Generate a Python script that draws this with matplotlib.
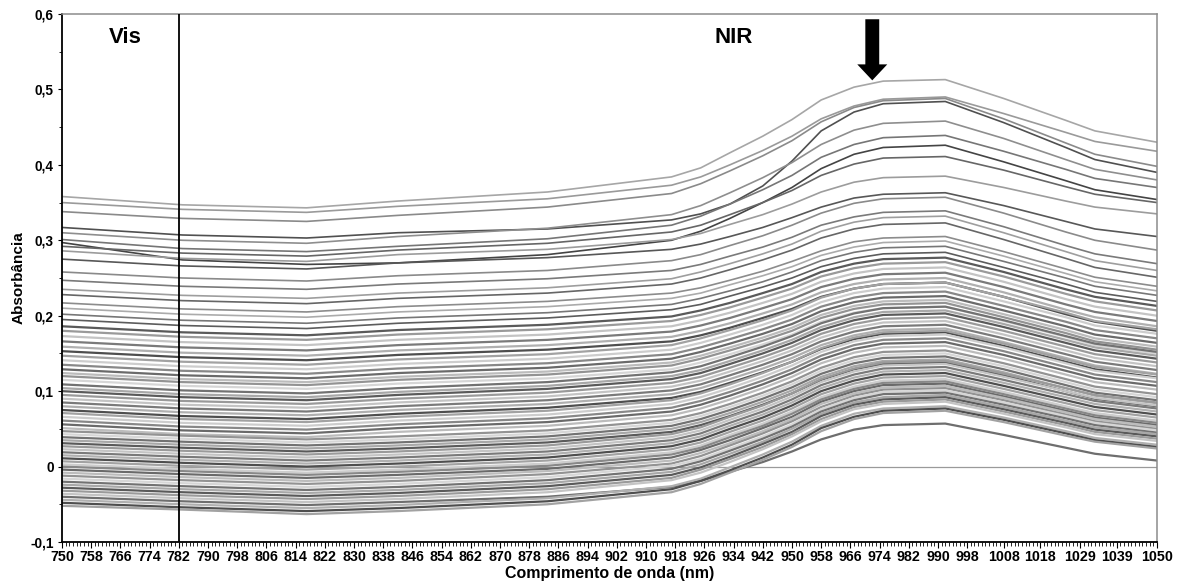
import matplotlib
matplotlib.use("Agg")
import matplotlib.pyplot as plt
from matplotlib import font_manager
from matplotlib.ticker import MultipleLocator

plt.rcParams['font.family'] = ['Liberation Sans', 'DejaVu Sans']

# Wavelengths labelled on the x axis (nm)
wavelength_ticks = [750, 758, 766, 774, 782, 790, 798, 806, 814, 822, 830, 838, 846,
                    854, 862, 870, 878, 886, 894, 902, 910, 918, 926, 934, 942, 950,
                    958, 966, 974, 982, 990, 998, 1008, 1018, 1029, 1039, 1050]

# Wavelengths (nm) at which each spectrum is listed below
sample_nm = [750, 783, 817, 842, 883, 917, 925, 933, 942, 950, 958, 967, 975, 992, 1008, 1025, 1033, 1050]

# Spectra with high absorbance
upper_spectra = [
    [0.358, 0.347, 0.343, 0.352, 0.364, 0.384, 0.396, 0.416, 0.438, 0.460, 0.486, 0.503, 0.511, 0.513, 0.488, 0.459, 0.445, 0.430],
    [0.350, 0.341, 0.337, 0.345, 0.355, 0.373, 0.384, 0.400, 0.419, 0.438, 0.461, 0.478, 0.487, 0.490, 0.468, 0.443, 0.431, 0.418],
    [0.338, 0.329, 0.325, 0.333, 0.344, 0.362, 0.375, 0.392, 0.412, 0.432, 0.457, 0.476, 0.485, 0.488, 0.461, 0.429, 0.414, 0.398],
    [0.317, 0.307, 0.303, 0.310, 0.315, 0.327, 0.335, 0.348, 0.372, 0.405, 0.445, 0.470, 0.481, 0.484, 0.456, 0.423, 0.407, 0.390],
    [0.310, 0.300, 0.296, 0.305, 0.316, 0.334, 0.346, 0.363, 0.383, 0.403, 0.427, 0.446, 0.455, 0.458, 0.435, 0.407, 0.394, 0.380],
    [0.301, 0.289, 0.285, 0.292, 0.302, 0.320, 0.332, 0.348, 0.367, 0.386, 0.410, 0.427, 0.436, 0.439, 0.418, 0.394, 0.382, 0.370],
    [0.297, 0.274, 0.268, 0.270, 0.281, 0.300, 0.312, 0.329, 0.350, 0.370, 0.395, 0.414, 0.423, 0.426, 0.404, 0.379, 0.367, 0.354],
    [0.292, 0.283, 0.279, 0.287, 0.296, 0.311, 0.320, 0.334, 0.350, 0.366, 0.386, 0.401, 0.409, 0.411, 0.393, 0.371, 0.361, 0.350],
    [0.286, 0.276, 0.272, 0.281, 0.288, 0.301, 0.309, 0.321, 0.334, 0.348, 0.364, 0.377, 0.383, 0.385, 0.370, 0.352, 0.344, 0.335],
    [0.275, 0.266, 0.262, 0.270, 0.277, 0.288, 0.295, 0.305, 0.317, 0.330, 0.344, 0.356, 0.361, 0.363, 0.346, 0.325, 0.315, 0.305],
    [0.258, 0.250, 0.246, 0.253, 0.260, 0.273, 0.281, 0.293, 0.306, 0.320, 0.336, 0.349, 0.355, 0.357, 0.336, 0.311, 0.300, 0.287],
    [0.247, 0.239, 0.235, 0.242, 0.249, 0.260, 0.268, 0.279, 0.291, 0.304, 0.320, 0.331, 0.337, 0.339, 0.318, 0.293, 0.282, 0.269],
    [0.235, 0.227, 0.223, 0.230, 0.237, 0.249, 0.258, 0.269, 0.282, 0.295, 0.312, 0.324, 0.330, 0.332, 0.310, 0.285, 0.273, 0.260],
    [0.228, 0.220, 0.216, 0.223, 0.230, 0.242, 0.250, 0.261, 0.274, 0.287, 0.303, 0.315, 0.321, 0.323, 0.301, 0.276, 0.264, 0.251],
    [0.217, 0.209, 0.205, 0.212, 0.219, 0.230, 0.237, 0.247, 0.259, 0.272, 0.286, 0.298, 0.303, 0.305, 0.285, 0.262, 0.251, 0.239],
    [0.210, 0.202, 0.198, 0.205, 0.212, 0.223, 0.230, 0.241, 0.253, 0.265, 0.280, 0.291, 0.297, 0.299, 0.279, 0.256, 0.245, 0.233],
    [0.202, 0.194, 0.190, 0.197, 0.204, 0.215, 0.223, 0.233, 0.245, 0.258, 0.273, 0.284, 0.290, 0.292, 0.272, 0.250, 0.239, 0.227],
    [0.195, 0.187, 0.183, 0.190, 0.197, 0.208, 0.215, 0.226, 0.238, 0.250, 0.265, 0.276, 0.282, 0.284, 0.264, 0.242, 0.231, 0.219],
]

# Spectra in the dense middle band
middle_spectra = [
    [0.186, 0.178, 0.174, 0.181, 0.188, 0.199, 0.207, 0.217, 0.230, 0.242, 0.258, 0.269, 0.275, 0.277, 0.258, 0.235, 0.225, 0.213],
    [0.180, 0.172, 0.168, 0.175, 0.182, 0.193, 0.201, 0.211, 0.224, 0.236, 0.252, 0.263, 0.269, 0.271, 0.252, 0.229, 0.219, 0.207],
    [0.173, 0.165, 0.161, 0.168, 0.175, 0.186, 0.194, 0.204, 0.217, 0.229, 0.245, 0.256, 0.262, 0.264, 0.245, 0.222, 0.212, 0.200],
    [0.166, 0.158, 0.154, 0.161, 0.168, 0.179, 0.187, 0.197, 0.210, 0.222, 0.238, 0.249, 0.255, 0.257, 0.238, 0.215, 0.205, 0.193],
    [0.159, 0.151, 0.147, 0.154, 0.161, 0.172, 0.180, 0.190, 0.203, 0.215, 0.231, 0.242, 0.248, 0.250, 0.231, 0.208, 0.198, 0.186],
    [0.153, 0.145, 0.141, 0.148, 0.155, 0.166, 0.174, 0.184, 0.197, 0.209, 0.225, 0.236, 0.242, 0.244, 0.225, 0.202, 0.192, 0.180],
    [0.147, 0.139, 0.135, 0.142, 0.149, 0.161, 0.170, 0.181, 0.194, 0.207, 0.224, 0.236, 0.242, 0.244, 0.225, 0.204, 0.193, 0.182],
    [0.141, 0.133, 0.129, 0.136, 0.143, 0.155, 0.164, 0.175, 0.188, 0.201, 0.218, 0.230, 0.236, 0.238, 0.219, 0.198, 0.187, 0.176],
    [0.135, 0.127, 0.123, 0.130, 0.137, 0.149, 0.158, 0.169, 0.182, 0.195, 0.212, 0.224, 0.230, 0.232, 0.213, 0.192, 0.181, 0.170],
    [0.129, 0.121, 0.117, 0.124, 0.131, 0.143, 0.152, 0.163, 0.176, 0.189, 0.206, 0.218, 0.224, 0.226, 0.207, 0.186, 0.175, 0.164],
    [0.124, 0.116, 0.112, 0.119, 0.126, 0.138, 0.147, 0.158, 0.171, 0.184, 0.201, 0.213, 0.219, 0.221, 0.202, 0.181, 0.170, 0.159],
    [0.120, 0.112, 0.108, 0.115, 0.122, 0.134, 0.143, 0.154, 0.167, 0.180, 0.197, 0.209, 0.215, 0.217, 0.198, 0.177, 0.166, 0.155],
    [0.115, 0.107, 0.103, 0.110, 0.117, 0.129, 0.138, 0.149, 0.162, 0.175, 0.192, 0.204, 0.210, 0.212, 0.193, 0.172, 0.161, 0.150],
    [0.109, 0.101, 0.097, 0.104, 0.112, 0.125, 0.133, 0.145, 0.159, 0.173, 0.190, 0.203, 0.210, 0.212, 0.194, 0.173, 0.163, 0.152],
    [0.104, 0.096, 0.092, 0.099, 0.107, 0.120, 0.128, 0.140, 0.154, 0.168, 0.185, 0.198, 0.205, 0.207, 0.189, 0.168, 0.158, 0.147],
    [0.100, 0.092, 0.088, 0.095, 0.103, 0.116, 0.124, 0.136, 0.150, 0.164, 0.181, 0.194, 0.201, 0.203, 0.185, 0.164, 0.154, 0.143],
    [0.095, 0.087, 0.083, 0.090, 0.098, 0.111, 0.119, 0.131, 0.145, 0.159, 0.176, 0.189, 0.196, 0.198, 0.180, 0.159, 0.149, 0.138],
    [0.090, 0.082, 0.078, 0.085, 0.093, 0.106, 0.114, 0.126, 0.140, 0.154, 0.171, 0.184, 0.191, 0.193, 0.175, 0.154, 0.144, 0.133],
    [0.085, 0.077, 0.073, 0.080, 0.088, 0.101, 0.109, 0.121, 0.135, 0.149, 0.166, 0.179, 0.186, 0.188, 0.170, 0.149, 0.139, 0.128],
    [0.080, 0.072, 0.068, 0.075, 0.083, 0.096, 0.104, 0.116, 0.130, 0.144, 0.161, 0.174, 0.181, 0.183, 0.165, 0.144, 0.134, 0.123],
    [0.075, 0.067, 0.063, 0.070, 0.078, 0.091, 0.099, 0.111, 0.125, 0.139, 0.156, 0.169, 0.176, 0.178, 0.160, 0.139, 0.129, 0.118],
    [0.071, 0.063, 0.059, 0.066, 0.074, 0.088, 0.097, 0.109, 0.124, 0.139, 0.157, 0.171, 0.178, 0.180, 0.163, 0.142, 0.132, 0.122],
    [0.066, 0.058, 0.054, 0.061, 0.069, 0.083, 0.092, 0.104, 0.119, 0.134, 0.152, 0.166, 0.173, 0.175, 0.158, 0.137, 0.127, 0.117],
    [0.061, 0.053, 0.049, 0.056, 0.064, 0.078, 0.087, 0.099, 0.114, 0.129, 0.147, 0.161, 0.168, 0.170, 0.153, 0.132, 0.122, 0.112],
    [0.056, 0.048, 0.044, 0.051, 0.059, 0.073, 0.082, 0.094, 0.109, 0.124, 0.142, 0.156, 0.163, 0.165, 0.148, 0.127, 0.117, 0.107],
    [0.051, 0.043, 0.039, 0.046, 0.054, 0.068, 0.077, 0.089, 0.104, 0.119, 0.137, 0.151, 0.158, 0.160, 0.143, 0.122, 0.112, 0.102],
]

# Spectra with low absorbance
lower_spectra = [
    [0.047, 0.041, 0.036, 0.040, 0.048, 0.062, 0.071, 0.083, 0.098, 0.113, 0.131, 0.145, 0.152, 0.154, 0.137, 0.116, 0.106, 0.096],
    [0.043, 0.037, 0.032, 0.036, 0.044, 0.058, 0.067, 0.079, 0.094, 0.109, 0.127, 0.141, 0.148, 0.150, 0.133, 0.112, 0.102, 0.092],
    [0.039, 0.033, 0.028, 0.032, 0.040, 0.054, 0.063, 0.075, 0.090, 0.105, 0.123, 0.137, 0.144, 0.146, 0.129, 0.108, 0.098, 0.088],
    [0.035, 0.029, 0.024, 0.028, 0.036, 0.050, 0.059, 0.071, 0.086, 0.101, 0.119, 0.133, 0.140, 0.142, 0.125, 0.104, 0.094, 0.084],
    [0.031, 0.025, 0.020, 0.024, 0.032, 0.046, 0.055, 0.067, 0.082, 0.097, 0.115, 0.129, 0.136, 0.138, 0.121, 0.100, 0.090, 0.080],
    [0.027, 0.021, 0.016, 0.020, 0.028, 0.043, 0.052, 0.066, 0.081, 0.097, 0.116, 0.130, 0.138, 0.140, 0.123, 0.104, 0.095, 0.085],
    [0.023, 0.017, 0.012, 0.016, 0.024, 0.039, 0.048, 0.062, 0.077, 0.093, 0.112, 0.126, 0.134, 0.136, 0.119, 0.100, 0.091, 0.081],
    [0.019, 0.013, 0.008, 0.012, 0.020, 0.035, 0.044, 0.058, 0.073, 0.089, 0.108, 0.122, 0.130, 0.132, 0.115, 0.096, 0.087, 0.077],
    [0.015, 0.009, 0.004, 0.008, 0.016, 0.031, 0.040, 0.054, 0.069, 0.085, 0.104, 0.118, 0.126, 0.128, 0.111, 0.092, 0.083, 0.073],
    [0.011, 0.005, 0.000, 0.004, 0.012, 0.027, 0.036, 0.050, 0.065, 0.081, 0.100, 0.114, 0.122, 0.124, 0.107, 0.088, 0.079, 0.069],
    [0.007, 0.001, -0.004, 0.000, 0.008, 0.023, 0.032, 0.046, 0.061, 0.077, 0.096, 0.110, 0.118, 0.120, 0.103, 0.084, 0.075, 0.065],
    [0.003, -0.003, -0.008, -0.004, 0.004, 0.019, 0.028, 0.042, 0.057, 0.073, 0.092, 0.106, 0.114, 0.116, 0.099, 0.080, 0.071, 0.061],
    [0.000, -0.006, -0.011, -0.007, 0.001, 0.016, 0.025, 0.039, 0.054, 0.070, 0.089, 0.103, 0.111, 0.113, 0.096, 0.077, 0.068, 0.058],
    [-0.004, -0.010, -0.015, -0.011, -0.003, 0.012, 0.022, 0.035, 0.051, 0.066, 0.086, 0.100, 0.108, 0.110, 0.093, 0.074, 0.065, 0.055],
    [-0.008, -0.014, -0.019, -0.015, -0.006, 0.008, 0.018, 0.031, 0.047, 0.063, 0.083, 0.097, 0.105, 0.107, 0.091, 0.072, 0.063, 0.053],
    [-0.012, -0.018, -0.023, -0.019, -0.010, 0.004, 0.014, 0.028, 0.044, 0.060, 0.079, 0.094, 0.102, 0.104, 0.088, 0.069, 0.060, 0.050],
    [-0.016, -0.022, -0.027, -0.023, -0.014, 0.001, 0.010, 0.024, 0.040, 0.056, 0.076, 0.091, 0.099, 0.101, 0.085, 0.067, 0.058, 0.048],
    [-0.020, -0.026, -0.031, -0.027, -0.018, -0.003, 0.007, 0.021, 0.037, 0.053, 0.073, 0.088, 0.096, 0.098, 0.082, 0.064, 0.055, 0.045],
    [-0.024, -0.030, -0.035, -0.031, -0.022, -0.007, 0.003, 0.017, 0.033, 0.050, 0.070, 0.085, 0.092, 0.095, 0.079, 0.061, 0.052, 0.043],
    [-0.028, -0.034, -0.039, -0.035, -0.026, -0.011, -0.001, 0.013, 0.030, 0.046, 0.067, 0.082, 0.089, 0.092, 0.076, 0.058, 0.049, 0.040],
    [-0.032, -0.038, -0.043, -0.039, -0.030, -0.015, -0.004, 0.010, 0.026, 0.043, 0.063, 0.079, 0.086, 0.089, 0.073, 0.055, 0.046, 0.037],
    [-0.036, -0.042, -0.047, -0.043, -0.034, -0.018, -0.008, 0.006, 0.023, 0.040, 0.060, 0.076, 0.083, 0.086, 0.070, 0.052, 0.043, 0.034],
    [-0.040, -0.046, -0.051, -0.047, -0.040, -0.027, -0.019, -0.007, 0.006, 0.020, 0.036, 0.049, 0.055, 0.057, 0.042, 0.025, 0.017, 0.008],
    [-0.044, -0.050, -0.055, -0.051, -0.042, -0.026, -0.016, -0.001, 0.016, 0.033, 0.054, 0.070, 0.077, 0.080, 0.065, 0.047, 0.038, 0.029],
    [-0.048, -0.054, -0.059, -0.055, -0.046, -0.030, -0.019, -0.005, 0.012, 0.029, 0.051, 0.066, 0.074, 0.077, 0.062, 0.044, 0.035, 0.026],
    [-0.052, -0.057, -0.063, -0.059, -0.050, -0.034, -0.023, -0.008, 0.009, 0.026, 0.047, 0.063, 0.071, 0.074, 0.059, 0.041, 0.033, 0.024],
]

y_ticks = [-0.1, 0.0, 0.1, 0.2, 0.3, 0.4, 0.5, 0.6]
y_tick_labels = ['-0,1', '0', '0,1', '0,2', '0,3', '0,4', '0,5', '0,6']

# Grey shades for the individual spectra
upper_shades = ['#a6a6a6', '#9a9a9a', '#8a8a8a', '#505050', '#8e8e8e', '#767676',
                '#444444', '#666666', '#9c9c9c', '#575757', '#8a8a8a', '#7a7a7a',
                '#9e9e9e', '#666666', '#8c8c8c', '#ababab', '#777777', '#5c5c5c']
band_shades = ['#5a5a5a', '#9a9a9a', '#c4c4c4', '#7a7a7a', '#b0b0b0', '#4e4e4e',
               '#a2a2a2', '#cdcdcd', '#888888', '#6a6a6a', '#bcbcbc', '#939393',
               '#d6d6d6', '#727272', '#a8a8a8']

# Condensed face for the crowded wavelength labels, when it is installed
narrow_ok = any(f.name == 'Liberation Sans Narrow' for f in font_manager.fontManager.ttflist)
xtick_family = ['Liberation Sans Narrow', 'Liberation Sans'] if narrow_ok else ['Liberation Sans']
xtick_size = 11.5 if narrow_ok else 10.3

fig = plt.figure(figsize=(11.83, 5.82), dpi=100)
ax = fig.add_axes([0.0524, 0.0687, 0.9256, 0.9073])

ax.axhline(0, color='#9a9a9a', lw=0.9, zorder=1)

for row, shade in zip(upper_spectra, upper_shades):
    ax.plot(sample_nm, row, color=shade, lw=1.2, zorder=2, solid_joinstyle='round')

band = middle_spectra + lower_spectra
for i, row in enumerate(band):
    shade = band_shades[i % len(band_shades)]
    if row is lower_spectra[22]:
        shade = '#6e6e6e'
    ax.plot(sample_nm, row, color=shade, lw=1.6, zorder=2, solid_joinstyle='round')

# Boundary between the visible and near infrared regions
ax.axvline(782, color='black', lw=1.3, zorder=3)

ax.text(767.3, 0.569, 'Vis', fontsize=16, fontweight='bold', ha='center', va='center')
ax.text(934.1, 0.569, 'NIR', fontsize=16, fontweight='bold', ha='center', va='center')

ax.annotate('', xy=(972, 0.512), xytext=(972, 0.593),
            arrowprops=dict(arrowstyle='simple,head_length=1.15,head_width=2.16,tail_width=1.0',
                            fc='black', ec='none', lw=0, shrinkA=0, shrinkB=0,
                            mutation_scale=10))

ax.set_xlim(750, 1050)
ax.set_ylim(-0.1, 0.6)

ax.set_xticks(wavelength_ticks)
ax.set_xticklabels([str(w) for w in wavelength_ticks], fontsize=xtick_size,
                   fontweight='bold', family=xtick_family)
ax.xaxis.set_minor_locator(MultipleLocator(1))
ax.set_yticks(y_ticks)
ax.set_yticklabels(y_tick_labels, fontsize=9.8, fontweight='bold')
ax.yaxis.set_minor_locator(MultipleLocator(0.05))

ax.tick_params(axis='x', which='major', length=4, width=0.8, pad=2)
ax.tick_params(axis='x', which='minor', length=3, width=0.6)
ax.tick_params(axis='y', which='major', length=3, width=0.8, pad=3)
ax.tick_params(axis='y', which='minor', length=2, width=0.6)

for side in ('left', 'bottom'):
    ax.spines[side].set_color('black')
    ax.spines[side].set_linewidth(1.3)
for side in ('top', 'right'):
    ax.spines[side].set_color('#8c8c8c')
    ax.spines[side].set_linewidth(1.1)

ax.set_xlabel('Comprimento de onda (nm)', fontsize=11.5, fontweight='bold', labelpad=1)
ax.set_ylabel('Absorbância', fontsize=11, fontweight='bold', labelpad=3)

fig.savefig('out.png', dpi=100)
